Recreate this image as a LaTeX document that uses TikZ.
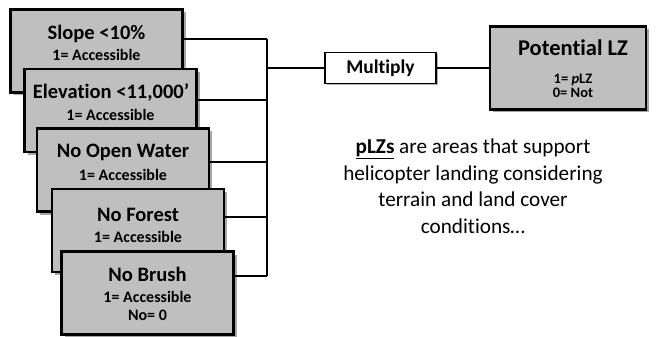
\documentclass[tikz,border=0pt]{standalone}
\usepackage{fontspec}
\setmainfont[Ligatures=NoCommon]{Carlito}
\usetikzlibrary{shadows,calc}
\definecolor{boxgray}{HTML}{BFBFBF}
\tikzset{
  gbox/.style={draw=black, line width=2.6pt, fill=boxgray, minimum width=172pt, minimum height=83pt, inner sep=0pt,
    drop shadow={shadow xshift=3pt, shadow yshift=-3pt, opacity=0.35, fill=black}},
  wbox/.style={draw=black, line width=1.2pt, fill=white, minimum width=111pt, minimum height=31pt, inner sep=0pt,
    drop shadow={shadow xshift=2pt, shadow yshift=-2pt, opacity=0.3, fill=black}},
  ttl/.style={font=\fontsize{20.5}{23}\selectfont\bfseries, inner sep=0pt, text=black},
  sub/.style={font=\fontsize{16}{18}\selectfont\bfseries, inner sep=0pt, text=black},
  psub/.style={font=\fontsize{14.5}{16}\selectfont\bfseries, inner sep=0pt, text=black},
  wire/.style={line width=1.6pt, draw=black},
  body/.style={font=\fontsize{21.2}{26.5}\selectfont, align=center, inner sep=0pt, text=black}
}
\begin{document}
\begin{tikzpicture}[x=1pt,y=-1pt]
\useasboundingbox (0,0) rectangle (657,337);
% bus coordinates
\coordinate (j1) at (267,39);
\coordinate (j2) at (267,100);
\coordinate (j3) at (267,162);
\coordinate (j4) at (267,217);
\coordinate (j5) at (267,276);
\coordinate (jm) at (267,68);
% wires behind boxes
\draw[wire] (j1) -- (j5);
% boxes
\node[gbox] (b1) at (96.5,51) {};
\node[ttl] (t1) at (96.5,34) {Slope <10\%};
\node[sub] (s1) at (96.5,55) {1= Accessible};
\node[gbox] (b2) at (110.5,110.5) {};
\node[ttl] (t2) at (111,92) {Elevation <11,000’};
\node[sub] (s2) at (110.5,115) {1= Accessible};
\node[gbox] (b3) at (123,170) {};
\node[ttl] (t3) at (123,152) {No Open Water};
\node[sub] (s3) at (123,175) {1= Accessible};
\node[gbox] (b4) at (138,230.5) {};
\node[ttl] (t4) at (138,215) {No Forest};
\node[sub] (s4) at (138,237) {1= Accessible};
\node[gbox] (b5) at (147.5,293) {};
\node[ttl] (t5) at (147.5,274) {No Brush};
\node[sub] (s5) at (147.5,297) {1= Accessible};
\node[sub] (n5) at (147.5,315) {No= 0};
% connectors
\draw[wire] (b1.east |- j1) -- (j1);
\draw[wire] (b2.east |- j2) -- (j2);
\draw[wire] (b3.east |- j3) -- (j3);
\draw[wire] (b4.east |- j4) -- (j4);
\draw[wire] (b5.east |- j5) -- (j5);
\node[wbox] (m) at (380.5,68) {};
\node[sub, font=\fontsize{19.5}{21}\selectfont\bfseries] (mt) at (m) {Multiply};
\node[gbox, minimum width=156pt] (p) at (568,68) {};
\node[ttl, font=\fontsize{22.5}{24}\selectfont\bfseries] (pt) at (573,48) {Potential LZ};
\node[psub] (ps1) at (573,80) {1= \textit{p}LZ};
\node[psub] (ps2) at (573,93) {0= Not};
\draw[wire] (jm) -- (m.west);
\draw[wire] (m.east) -- (p.west);
% body text
\node[body] (txt) at (473,186) {\underline{\textbf{pLZs}} are areas that support\\helicopter landing considering\\terrain and land cover\\conditions…};
\end{tikzpicture}
\end{document}
